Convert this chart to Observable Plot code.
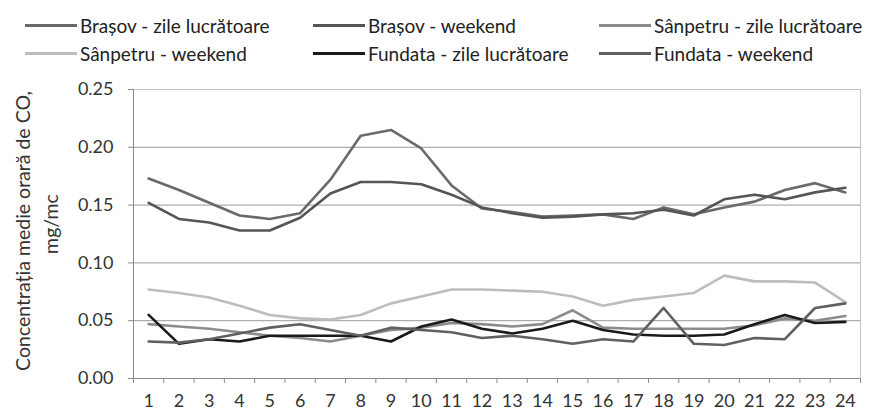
<!DOCTYPE html>
<html>
<head>
<meta charset="utf-8">
<script src="https://cdn.jsdelivr.net/npm/d3@7"></script>
<script src="https://cdn.jsdelivr.net/npm/@observablehq/plot@0.6"></script>
<style>
  html, body { margin: 0; padding: 0; background: #fff; }
  body { width: 874px; height: 412px; overflow: hidden; font-family: "Lato", "Open Sans", sans-serif; color: #222; }
  #legend { position: relative; height: 68px; width: 874px; }
  .item { position: absolute; display: flex; align-items: center; font-size: 19px; white-space: nowrap; line-height: 1; }
  .sw { display: inline-block; width: 52px; height: 3px; margin-right: 3px; }
</style>
</head>
<body>
<div id="legend"></div>
<div id="chart"></div>
<script>
const hours = d3.range(1, 25);
const seriesNames = [
  "Brașov - zile lucrătoare",
  "Brașov - weekend",
  "Sânpetru - zile lucrătoare",
  "Sânpetru - weekend",
  "Fundata - zile lucrătoare",
  "Fundata - weekend"
];
const seriesColors = ["#6a6a6a", "#555555", "#8c8c8c", "#bdbdbd", "#1a1a1a", "#606060"];

const brasovLucratoare = [0.173, 0.163, 0.152, 0.141, 0.138, 0.143, 0.172, 0.210, 0.215, 0.199, 0.167, 0.147, 0.144, 0.140, 0.141, 0.142, 0.138, 0.148, 0.142, 0.148, 0.153, 0.163, 0.169, 0.161];
const brasovWeekend    = [0.152, 0.138, 0.135, 0.128, 0.128, 0.139, 0.160, 0.170, 0.170, 0.168, 0.159, 0.148, 0.143, 0.139, 0.140, 0.142, 0.143, 0.146, 0.141, 0.155, 0.159, 0.155, 0.161, 0.165];
const sanpetruLucratoare = [0.047, 0.045, 0.043, 0.040, 0.037, 0.035, 0.032, 0.037, 0.042, 0.044, 0.048, 0.047, 0.045, 0.047, 0.059, 0.044, 0.043, 0.043, 0.043, 0.043, 0.046, 0.052, 0.050, 0.054];
const sanpetruWeekend    = [0.077, 0.074, 0.070, 0.063, 0.055, 0.052, 0.051, 0.055, 0.065, 0.071, 0.077, 0.077, 0.076, 0.075, 0.071, 0.063, 0.068, 0.071, 0.074, 0.089, 0.084, 0.084, 0.083, 0.066];
const fundataLucratoare  = [0.055, 0.030, 0.034, 0.032, 0.037, 0.037, 0.037, 0.037, 0.032, 0.045, 0.051, 0.043, 0.039, 0.043, 0.050, 0.042, 0.038, 0.037, 0.037, 0.038, 0.047, 0.055, 0.048, 0.049];
const fundataWeekend     = [0.032, 0.031, 0.034, 0.039, 0.044, 0.047, 0.042, 0.037, 0.044, 0.042, 0.040, 0.035, 0.037, 0.034, 0.030, 0.034, 0.032, 0.061, 0.030, 0.029, 0.035, 0.034, 0.061, 0.065];

const yTicks = [0, 0.05, 0.10, 0.15, 0.20, 0.25];
const yLabel1 = "Concentrația medie orară de CO,";
const yLabel2 = "mg/mc";

const allSeries = [brasovLucratoare, brasovWeekend, sanpetruLucratoare, sanpetruWeekend, fundataLucratoare, fundataWeekend];
const data = allSeries.flatMap((vals, si) => vals.map((v, i) => ({series: seriesNames[si], hour: hours[i], value: v})));
const boundaries = d3.range(0.5, 25, 1);

// legend
const legendPos = [[25, 25], [313, 25], [599, 25], [25, 53], [313, 53], [599, 53]];
const legend = document.getElementById("legend");
seriesNames.forEach((name, i) => {
  const it = document.createElement("div");
  it.className = "item";
  it.style.left = legendPos[i][0] + "px";
  it.style.top = (legendPos[i][1] - 10) + "px";
  it.style.height = "20px";
  const sw = document.createElement("span");
  sw.className = "sw";
  sw.style.background = seriesColors[i];
  const tx = document.createElement("span");
  tx.textContent = name;
  it.appendChild(sw); it.appendChild(tx);
  legend.appendChild(it);
});

const chart = Plot.plot({
  width: 874,
  height: 344,
  marginLeft: 133,
  marginRight: 14,
  marginTop: 21,
  marginBottom: 34,
  style: {fontFamily: "Lato, 'Open Sans', sans-serif", fontSize: "18px", color: "#333", background: "#fff"},
  x: {type: "linear", domain: [0.5, 24.5]},
  y: {domain: [0, 0.25]},
  color: {domain: seriesNames, range: seriesColors},
  marks: [
    Plot.frame({stroke: "#c4c4c4"}),
    Plot.gridY(yTicks.slice(1, 5), {stroke: "#9a9a9a", strokeOpacity: 1}),
    Plot.ruleX([0.5], {stroke: "#8a8a8a"}),
    Plot.ruleY([0], {stroke: "#8a8a8a"}),
    Plot.axisY(yTicks, {tickFormat: d3.format(".2f"), tickSize: 5, tickPadding: 15, stroke: "#8a8a8a", label: null, fill: "#333"}),
    Plot.axisX(boundaries, {tickSize: 5, tickFormat: () => "", stroke: "#8a8a8a", label: null}),
    Plot.axisX(hours, {tickSize: 0, tickPadding: 16, tickFormat: d => String(d), label: null, fill: "#333"}),
    Plot.text([yLabel1], {text: d => d, frameAnchor: "left", textAnchor: "middle", lineAnchor: "middle", dx: -110, dy: -3, rotate: -90, fontSize: 19.5, fill: "#333"}),
    Plot.text([yLabel2], {text: d => d, frameAnchor: "left", textAnchor: "middle", lineAnchor: "middle", dx: -82, dy: -10, rotate: -90, fontSize: 19.5, fill: "#333"}),
    Plot.line(data, {x: "hour", y: "value", z: "series", stroke: "series", strokeWidth: 2.6})
  ]
});
document.getElementById("chart").appendChild(chart);
</script>
</body>
</html>
